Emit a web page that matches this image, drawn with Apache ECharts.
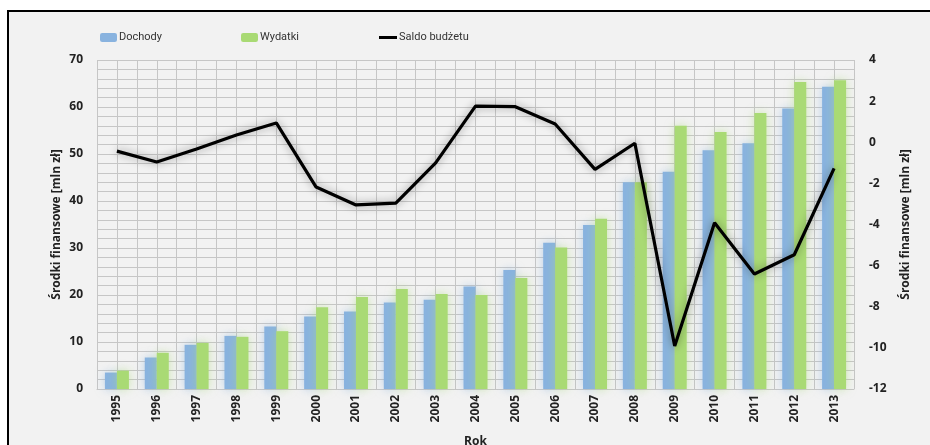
<!DOCTYPE html>
<html>
<head>
<meta charset="utf-8">
<script src="https://cdn.jsdelivr.net/npm/echarts@6/dist/echarts.min.js"></script>
<style>
  html, body { margin: 0; padding: 0; background: #ffffff; }
  #chart { width: 930px; height: 445px; }
</style>
</head>
<body>
<div id="chart"></div>
<script>
// lata
var years = ['1995', '1996', '1997', '1998', '1999', '2000', '2001', '2002', '2003', '2004',
             '2005', '2006', '2007', '2008', '2009', '2010', '2011', '2012', '2013'];

// dochody [mln zł]
var dochody = [3.5, 6.7, 9.4, 11.3, 13.3, 15.4, 16.5, 18.4, 19.0, 21.8,
               25.3, 31.1, 34.9, 44.0, 46.2, 50.8, 52.3, 59.7, 64.3];

// wydatki [mln zł]
var wydatki = [3.9, 7.7, 9.8, 11.1, 12.3, 17.4, 19.6, 21.3, 20.2, 20.0,
               23.6, 30.1, 36.2, 44.0, 56.0, 54.7, 58.7, 65.3, 65.7];

// saldo budżetu [mln zł]
var saldo = [-0.43, -0.96, -0.33, 0.35, 0.94, -2.18, -3.05, -2.96, -1.0, 1.76,
             1.73, 0.89, -1.32, -0.05, -9.91, -3.91, -6.41, -5.47, -1.27];

var labelFont = 'Open Sans';
var legendFont = 'Roboto';
var gridColor = '#c6c6c6';

var chart = echarts.init(document.getElementById('chart'));

var option = {
    backgroundColor: '#ffffff',
    animation: false,
    graphic: [{
        type: 'rect',
        z: -10,
        shape: { x: 8, y: 11, width: 1000, height: 1000 },
        style: { fill: '#f2f2f2', stroke: '#000000', lineWidth: 2 }
    }],
    legend: [
        {
            data: ['Dochody'], left: 95, top: 27,
            itemWidth: 17, itemHeight: 9, itemGap: 2,
            textStyle: { fontFamily: legendFont, fontSize: 11, color: '#333', padding: [0, 0, 0, -3] }
        },
        {
            data: ['Wydatki'], left: 236, top: 27,
            itemWidth: 17, itemHeight: 9, itemGap: 2,
            textStyle: { fontFamily: legendFont, fontSize: 11, color: '#333', padding: [0, 0, 0, -3] }
        },
        {
            data: ['Saldo budżetu'], left: 374, top: 27,
            icon: 'rect',
            itemWidth: 18, itemHeight: 3, itemGap: 2,
            textStyle: { fontFamily: legendFont, fontSize: 11, color: '#333', padding: [0, 0, 0, -3] }
        }
    ],
    grid: { left: 97, right: 76, top: 60, bottom: 56, outerBoundsMode: 'none', containLabel: false },
    xAxis: [
        {
            type: 'category',
            data: years,
            name: 'Rok',
            nameLocation: 'middle',
            nameGap: 47,
            nameMoveOverlap: false,
            nameTextStyle: { fontFamily: labelFont, fontWeight: 'bold', fontSize: 12, color: '#222' },
            axisLine: { show: true, lineStyle: { color: gridColor } },
            axisTick: { show: false },
            axisLabel: {
                rotate: 90, margin: 6, interval: 0,
                fontFamily: labelFont, fontWeight: 'bold', fontSize: 12, color: '#222'
            },
            splitLine: { show: false }
        },
        {
            // pomocnicza oś do pionowych linii siatki (co pół kategorii)
            type: 'value',
            min: 0, max: 38, interval: 1,
            position: 'bottom',
            axisLine: { show: false },
            axisTick: { show: false },
            axisLabel: { show: false },
            splitLine: { show: true, lineStyle: { color: gridColor, width: 1 } }
        }
    ],
    yAxis: [
        {
            type: 'value',
            min: 0, max: 70, interval: 10,
            name: 'Środki finansowe [mln zł]',
            nameLocation: 'middle',
            nameRotate: 90,
            nameGap: 34,
            nameMoveOverlap: false,
            nameTextStyle: { fontFamily: labelFont, fontWeight: 'bold', fontSize: 12, color: '#222' },
            axisLine: { show: false },
            axisTick: { show: false },
            axisLabel: { margin: 14, fontFamily: labelFont, fontWeight: 'bold', fontSize: 12, color: '#222' },
            splitLine: { show: true, lineStyle: { color: gridColor, width: 1 } },
            minorTick: { show: false, splitNumber: 5 },
            minorSplitLine: { show: true, lineStyle: { color: gridColor, width: 1 } }
        },
        {
            type: 'value',
            min: -12, max: 4, interval: 2,
            name: 'Środki finansowe [mln zł]',
            nameLocation: 'middle',
            nameRotate: 90,
            nameGap: 46,
            nameMoveOverlap: false,
            nameTextStyle: { fontFamily: labelFont, fontWeight: 'bold', fontSize: 12, color: '#222' },
            axisLine: { show: false },
            axisTick: { show: false },
            axisLabel: { margin: 15, fontFamily: labelFont, fontWeight: 'bold', fontSize: 12, color: '#222' },
            splitLine: { show: false }
        }
    ],
    series: [
        {
            name: 'Dochody',
            type: 'bar',
            xAxisIndex: 0,
            yAxisIndex: 0,
            data: dochody,
            barWidth: 12,
            barGap: '0%',
            itemStyle: {
                color: '#89b3df',
                shadowBlur: 10,
                shadowColor: 'rgba(137,179,223,0.55)'
            }
        },
        {
            name: 'Wydatki',
            type: 'bar',
            xAxisIndex: 0,
            yAxisIndex: 0,
            data: wydatki,
            barWidth: 12,
            barGap: '0%',
            itemStyle: {
                color: '#a9da74',
                shadowBlur: 10,
                shadowColor: 'rgba(169,218,116,0.55)'
            }
        },
        {
            name: 'Saldo budżetu',
            type: 'line',
            xAxisIndex: 0,
            yAxisIndex: 1,
            data: saldo,
            symbol: 'none',
            z: 5,
            lineStyle: {
                color: '#000000',
                width: 3.2,
                shadowBlur: 8,
                shadowColor: 'rgba(0,0,0,0.4)'
            },
            itemStyle: { color: '#000000' }
        }
    ]
};

chart.setOption(option);
</script>
</body>
</html>
